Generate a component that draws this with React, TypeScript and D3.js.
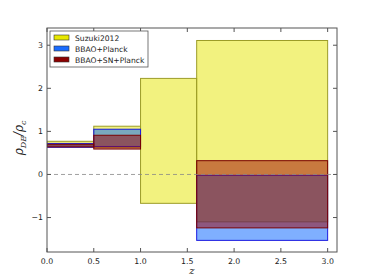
import React from "react";
import * as d3 from "d3";

const W = 374;
const H = 280;
const M = { left: 47, right: 37, top: 28, bottom: 28 };

// redshift bins
const binEdges = [0, 0.5, 1.0, 1.6, 3.0];

// [lower, upper] of rho_DE / rho_c per bin, null where no constraint drawn
const suzukiBand: ([number, number] | null)[] = [
  [0.66, 0.77],
  [0.62, 1.12],
  [-0.67, 2.23],
  [-1.1, 3.11],
];
const bbaoPlanckBand: ([number, number] | null)[] = [
  [0.63, 0.72],
  [0.65, 1.05],
  null,
  [-1.53, -0.02],
];
const bbaoSnPlanckBand: ([number, number] | null)[] = [
  [0.64, 0.7],
  [0.59, 0.91],
  null,
  [-1.24, 0.32],
];

const seriesNames = ["Suzuki2012", "BBAO+Planck", "BBAO+SN+Planck"];
const seriesFill = ["#e5e500", "#0060ff", "#9e0000"];
const seriesEdge = ["#9c9c28", "#1a1ae0", "#7a0000"];
const seriesSwatch = ["#e8e800", "#1a6cff", "#8b0000"];

const xTicks = [0, 0.5, 1.0, 1.5, 2.0, 2.5, 3.0];
const yTicks = [-1, 0, 1, 2, 3];

const App = () => {
  const x = d3.scaleLinear().domain([0, 3.1]).range([M.left, W - M.right]);
  const y = d3.scaleLinear().domain([-1.8, 3.4]).range([H - M.bottom, M.top]);
  const bands = [suzukiBand, bbaoPlanckBand, bbaoSnPlanckBand];
  const fmtY = (v: number) => (v < 0 ? "\u2212" + Math.abs(v) : String(v));
  const axisColor = "#555";
  const font = "DejaVu Sans";

  return (
    <div style={{ position: "fixed", left: 0, top: 0 }}>
      <svg width={W} height={H} style={{ display: "block", background: "#fff" }}>
        <defs>
          <clipPath id="plot">
            <rect x={x(0)} y={y(3.4)} width={x(3.1) - x(0)} height={y(-1.8) - y(3.4)} />
          </clipPath>
        </defs>
        <g clipPath="url(#plot)">
          {bands.map((band, si) =>
            band.map((b, i) =>
              b ? (
                <rect
                  key={`${si}-${i}`}
                  x={x(binEdges[i])}
                  y={y(b[1])}
                  width={x(binEdges[i + 1]) - x(binEdges[i])}
                  height={y(b[0]) - y(b[1])}
                  fill={seriesFill[si]}
                  fillOpacity={0.5}
                  stroke={seriesEdge[si]}
                  strokeWidth={1}
                />
              ) : null
            )
          )}
          <line
            x1={x(0)}
            x2={x(3.1)}
            y1={y(0)}
            y2={y(0)}
            stroke="#888"
            strokeDasharray="4,3"
            strokeWidth={0.8}
          />
        </g>
        {/* frame */}
        <rect
          x={x(0)}
          y={y(3.4)}
          width={x(3.1) - x(0)}
          height={y(-1.8) - y(3.4)}
          fill="none"
          stroke={axisColor}
          strokeWidth={1}
        />
        {xTicks.map((t) => (
          <g key={"x" + t}>
            <line x1={x(t)} x2={x(t)} y1={y(-1.8)} y2={y(-1.8) - 4} stroke={axisColor} />
            <line x1={x(t)} x2={x(t)} y1={y(3.4)} y2={y(3.4) + 4} stroke={axisColor} />
            <text
              x={x(t)}
              y={y(-1.8) + 12}
              fontSize={7.8}
              fontFamily={font}
              textAnchor="middle"
              fill="#222"
            >
              {t.toFixed(1)}
            </text>
          </g>
        ))}
        {yTicks.map((t) => (
          <g key={"y" + t}>
            <line x1={x(0)} x2={x(0) + 4} y1={y(t)} y2={y(t)} stroke={axisColor} />
            <line x1={x(3.1)} x2={x(3.1) - 4} y1={y(t)} y2={y(t)} stroke={axisColor} />
            <text
              x={x(0) - 4}
              y={y(t) + 2.8}
              fontSize={7.8}
              fontFamily={font}
              textAnchor="end"
              fill="#222"
            >
              {fmtY(t)}
            </text>
          </g>
        ))}
        <text
          x={(x(0) + x(3.1)) / 2}
          y={H - 6}
          fontSize={10}
          fontFamily="DejaVu Serif"
          fontStyle="italic"
          textAnchor="middle"
          fill="#222"
        >
          z
        </text>
        <text
          transform={`translate(${23},${y(0.85)}) rotate(-90)`}
          fontSize={12}
          fontFamily="DejaVu Serif"
          fontStyle="italic"
          textAnchor="middle"
          fill="#222"
        >
          ρ
          <tspan fontSize={8} dy={3}>DE</tspan>
          <tspan dy={-3}>/ρ</tspan>
          <tspan fontSize={8} dy={3}>c</tspan>
        </text>
        {/* legend */}
        <g>
          <rect x={50} y={31} width={98} height={36} fill="#fff" stroke={axisColor} strokeWidth={0.8} />
          {seriesNames.map((name, i) => (
            <g key={name}>
              <rect
                x={54}
                y={35 + i * 11}
                width={15}
                height={5}
                fill={seriesSwatch[i]}
                stroke="#333"
                strokeWidth={0.6}
              />
              <text x={75} y={40.8 + i * 11} fontSize={7.6} fontFamily={font} fill="#222">
                {name}
              </text>
            </g>
          ))}
        </g>
      </svg>
    </div>
  );
};

export default App;
